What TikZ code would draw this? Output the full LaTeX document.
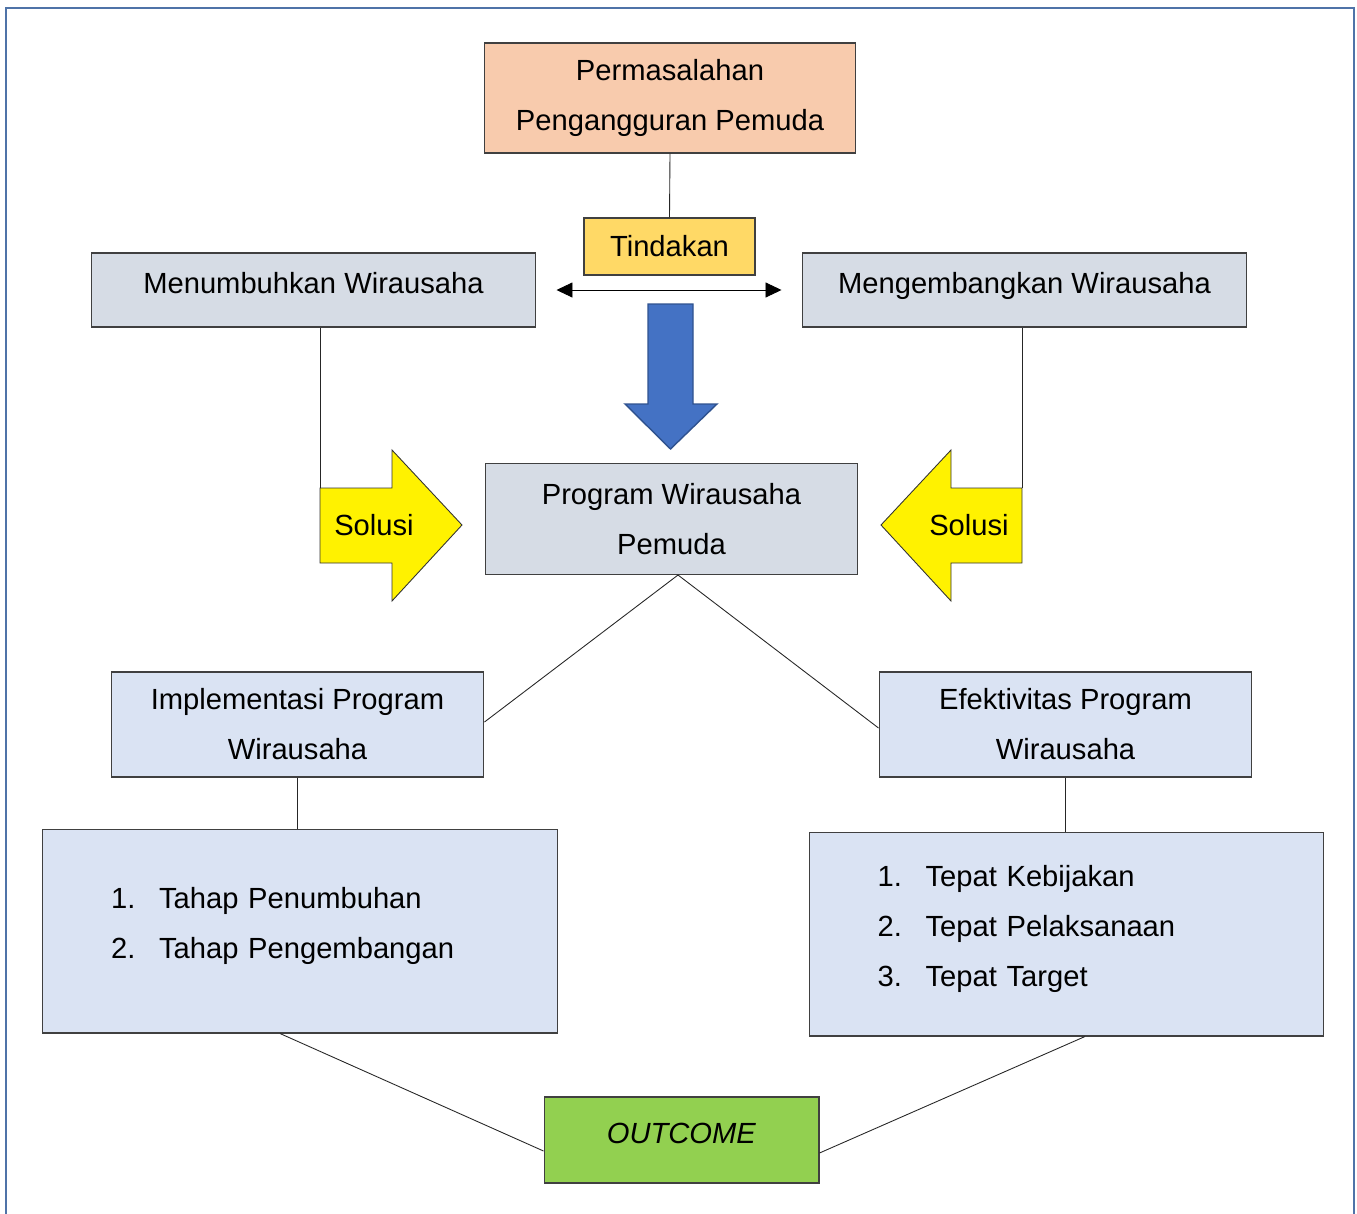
\documentclass[tikz,border=0pt]{standalone}
\usepackage{fontspec}
\setmainfont{Liberation Sans}
\usetikzlibrary{arrows.meta}
\definecolor{peach}{HTML}{F8CBAD}
\definecolor{gold}{HTML}{FFD966}
\definecolor{slate}{HTML}{D6DCE5}
\definecolor{pale}{HTML}{DAE3F3}
\definecolor{leaf}{HTML}{92D050}
\definecolor{royal}{HTML}{4472C4}
\definecolor{royaldark}{HTML}{2F528F}
\definecolor{framecol}{HTML}{4F73A8}

\begin{document}
\begin{tikzpicture}
    [x=0.02cm,y=-0.02cm,every node/.style={font=\fontsize{16.6}{28.4}\selectfont},
     box/.style={draw=black!75, line width=0.6pt, align=center, inner sep=0pt},
     raised/.style={text height=0.42cm, text depth=0.28cm},
     listbox/.style={box, fill=pale, align=left, text width=7.56cm, inner xsep=1.37cm, minimum height=4.08cm},
     solusi/.style={draw=black!80, line width=0.5pt, fill=yellow},
     link/.style={draw=black!85, line width=0.5pt}]
    \useasboundingbox (0,0) rectangle (1357,1214);
    \draw[framecol, line width=1.2pt] (6,1230) -- (6,8) -- (1354,8) -- (1354,1230);
    % boxes
    \node[box, fill=peach, minimum width=7.44cm, minimum height=2.2cm] (perm) at (670,98) {Permasalahan\\Pengangguran Pemuda};
    \node[box, fill=gold, minimum width=3.42cm, minimum height=1.14cm] (tind) at (669.5,246.5) {Tindakan};
    \node[box, raised, fill=slate, minimum width=8.9cm, minimum height=1.48cm] (tumbuh) at (313.5,290) {Menumbuhkan Wirausaha};
    \node[box, raised, fill=slate, minimum width=8.9cm, minimum height=1.48cm] (kembang) at (1024.5,290) {Mengembangkan Wirausaha};
    \node[box, fill=slate, minimum width=7.46cm, minimum height=2.22cm] (prog) at (671.5,519) {Program Wirausaha\\Pemuda};
    \node[box, fill=pale, minimum width=7.46cm, minimum height=2.1cm] (impl) at (297.5,724.5) {Implementasi Program\\Wirausaha};
    \node[box, fill=pale, minimum width=7.46cm, minimum height=2.1cm] (efek) at (1065.5,724.5) {Efektivitas Program\\Wirausaha};
    \node[listbox] (listL) at (300,931) {\begin{tabular}{@{}p{0.96cm}@{}l@{}}1. & Tahap Penumbuhan\\2. & Tahap Pengembangan\\[0.3cm]\end{tabular}};
    \node[listbox] (listR) at (1066.5,934) {\begin{tabular}{@{}p{0.96cm}@{}l@{}}1. & Tepat Kebijakan\\2. & Tepat Pelaksanaan\\3. & Tepat Target\\[0.3cm]\end{tabular}};
    \node[box, raised, fill=leaf, minimum width=5.5cm, minimum height=1.72cm] (out) at (681.5,1140) {\textit{OUTCOME}};
    % arrows
    \draw[{Triangle[length=0.32cm,width=0.3cm]}-{Triangle[length=0.32cm,width=0.3cm]}, line width=0.5pt, shorten <=0.4cm, shorten >=0.4cm] (tumbuh.east) -- (kembang.west);
    \draw[royaldark, line width=0.8pt, fill=royal] (648,304) -- (693,304) -- (693,404) -- (717,404) -- (670.5,449) -- (625,404) -- (648,404) -- cycle;
    \coordinate (solLtop) at (320,488);
    \coordinate (solRtop) at (1022,488);
    \draw[solusi] (solLtop) -- (392,488) -- (392,450) -- (462,525) -- (392,601) -- (392,563) -- (320,563) -- cycle;
    \draw[solusi] (solRtop) -- (951,488) -- (951,450) -- (881,525) -- (951,601) -- (951,563) -- (1022,563) -- cycle;
    \node (solL) at (374,525) {Solusi};
    \node (solR) at (969,525) {Solusi};
    % links
    \foreach \from/\to in {perm.south/tind.north, impl.south/impl.south |- listL.north, efek.south/efek.south |- listR.north}
    \draw[link] (\from) -- (\to);
    \draw[link] ([xshift=0.13cm]prog.south) -- ([yshift=0.05cm]impl.east);
    \draw[link] ([xshift=0.13cm]prog.south) -- ([yshift=-0.07cm]efek.west);
    \draw[link] (tumbuh.south -| solLtop) -- (solLtop);
    \draw[link] (kembang.south -| solRtop) -- (solRtop);
    \draw[link] ([xshift=-0.4cm]listL.south) -- ([yshift=-0.22cm]out.west);
    \draw[link] ([xshift=0.37cm]listR.south) -- ([yshift=-0.26cm]out.east);
\end{tikzpicture}
\end{document}
